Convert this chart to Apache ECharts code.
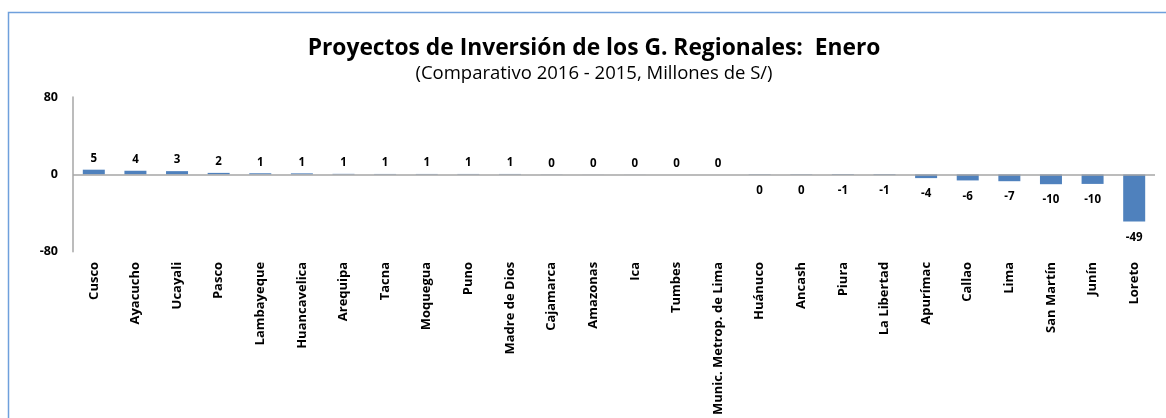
<!DOCTYPE html>
<html>
<head>
<meta charset="utf-8">
<script src="https://cdn.jsdelivr.net/npm/echarts@6/dist/echarts.min.js"></script>
<style>
  html, body { margin: 0; padding: 0; background: #fff; }
  #chart { width: 1166px; height: 418px; }
</style>
</head>
<body>
<div id="chart"></div>
<script>
var regiones = ['Cusco', 'Ayacucho', 'Ucayali', 'Pasco', 'Lambayeque', 'Huancavelica', 'Arequipa',
    'Tacna', 'Moquegua', 'Puno', 'Madre de Dios', 'Cajamarca', 'Amazonas', 'Ica', 'Tumbes',
    'Munic. Metrop. de Lima', 'Huánuco', 'Ancash', 'Piura', 'La Libertad', 'Apurímac', 'Callao',
    'Lima', 'San Martín', 'Junín', 'Loreto'];
// variación 2016 - 2015, millones de S/
var variacion = [4.9, 3.8, 3.4, 1.6, 1.2, 1.1, 0.6, 0.5, 0.5, 0.5, 0.5, 0.2, 0.1, 0.1, 0.0,
    0.0, -0.4, -0.4, -0.6, -0.7, -3.8, -6.2, -7.0, -10.1, -9.8, -48.6];
var yTicks = [-80, 0, 80];

var fuente = '"Open Sans", "DejaVu Sans", sans-serif';

var datos = variacion.map(function (v) {
    return {
        value: v,
        label: {
            position: v < 0 ? 'bottom' : 'top',
            distance: v < 0 ? 10 : 5
        }
    };
});

var chart = echarts.init(document.getElementById('chart'));
chart.setOption({
    backgroundColor: '#ffffff',
    animation: false,
    title: {
        text: 'Proyectos de Inversión de los G. Regionales:  Enero',
        subtext: '(Comparativo 2016 - 2015, Millones de S/)',
        left: 589,
        top: 32,
        textAlign: 'center',
        itemGap: 4,
        textStyle: { fontFamily: fuente, fontSize: 22.8, fontWeight: 'bold', color: '#000' },
        subtextStyle: { fontFamily: fuente, fontSize: 18.5, color: '#000' }
    },
    graphic: [{
        type: 'rect',
        shape: { x: 8.5, y: 12.5, width: 1200, height: 500 },
        style: { fill: null, stroke: '#6fa0dc', lineWidth: 1.5 },
        silent: true
    }],
    grid: { left: 73, right: 11, top: 97, bottom: 166 },
    xAxis: {
        type: 'category',
        data: regiones,
        axisLine: { show: false, onZero: false },
        axisTick: { show: false },
        axisLabel: {
            rotate: 90,
            interval: 0,
            margin: 10,
            fontFamily: fuente,
            fontSize: 13,
            fontWeight: 'bold',
            color: '#000'
        }
    },
    yAxis: {
        type: 'value',
        min: yTicks[0],
        max: yTicks[yTicks.length - 1],
        interval: 80,
        axisLine: { show: true, lineStyle: { color: '#a6a6a6', width: 1.5 } },
        axisTick: { show: false },
        splitLine: { show: false },
        axisLabel: {
            margin: 15,
            fontFamily: fuente,
            fontSize: 12.5,
            fontWeight: 'bold',
            color: '#000'
        }
    },
    series: [{
        type: 'bar',
        data: datos,
        barWidth: 22,
        itemStyle: { color: '#4f81bd' },
        label: {
            show: true,
            fontFamily: fuente,
            fontSize: 11.5,
            fontWeight: 'bold',
            color: '#000',
            formatter: function (p) { return String(Math.round(p.value) + 0); }
        },
        markLine: {
            silent: true,
            symbol: 'none',
            label: { show: false },
            lineStyle: { color: '#a6a6a6', type: 'solid', width: 1.5 },
            data: [{ yAxis: 0 }]
        }
    }]
});
</script>
</body>
</html>
